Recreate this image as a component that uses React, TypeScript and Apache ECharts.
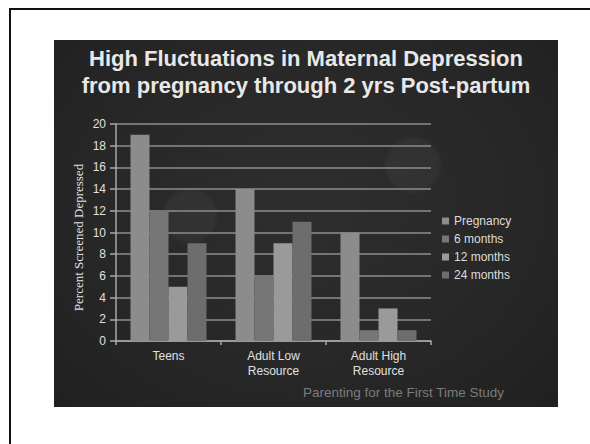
import React, { useEffect, useRef } from "react";
import * as echarts from "echarts";

const categories = ["Teens", "Adult Low\nResource", "Adult High\nResource"];
const seriesNames = ["Pregnancy", "6 months", "12 months", "24 months"];
const pregnancy = [19, 14, 10];
const sixMonths = [12, 6, 1];
const twelveMonths = [5, 9, 3];
const twentyFourMonths = [9, 11, 1];
const yMin = 0;
const yMax = 20;
const yStep = 2;
const titleLines = [
  "High Fluctuations in Maternal Depression",
  "from pregnancy through 2 yrs Post-partum",
];
const yAxisTitle = "Percent Screened Depressed";
const footerText = "Parenting for the First Time Study";

const barColors = ["#8c8c8c", "#767676", "#9a9a9a", "#6d6d6d"];
const SANS = "'Liberation Sans', Arial, Helvetica, sans-serif";
const SERIF = "'Liberation Serif', 'Times New Roman', serif";

export default function App() {
  const ref = useRef<HTMLDivElement>(null);

  useEffect(() => {
    if (!ref.current) return;
    const chart = echarts.init(ref.current, null, { renderer: "svg" });
    const values = [pregnancy, sixMonths, twelveMonths, twentyFourMonths];
    chart.setOption({
      animation: false,
      backgroundColor: "transparent",
      textStyle: { fontFamily: SANS },
      grid: { left: 116, top: 124, width: 315, height: 217, containLabel: false },
      legend: {
        orient: "vertical",
        left: 442,
        top: 215,
        padding: 0,
        itemWidth: 7,
        itemHeight: 7,
        itemGap: 6,
        icon: "rect",
        data: seriesNames,
        textStyle: { color: "#dcdcdc", fontSize: 12, fontFamily: SANS },
      },
      xAxis: {
        type: "category",
        data: categories,
        axisLine: { show: true, lineStyle: { color: "#a8a8a8", width: 1.5 } },
        axisTick: { show: true, length: 4, lineStyle: { color: "#a8a8a8", width: 1.5 } },
        axisLabel: {
          color: "#e0e0e0",
          fontSize: 12,
          lineHeight: 14.5,
          margin: 8,
          interval: 0,
          fontFamily: SANS,
        },
        splitLine: { show: false },
      },
      yAxis: {
        type: "value",
        min: yMin,
        max: yMax,
        interval: yStep,
        axisLine: { show: true, lineStyle: { color: "#a8a8a8", width: 1.5 } },
        axisTick: { show: true, length: 6, lineStyle: { color: "#a8a8a8", width: 1.5 } },
        axisLabel: { color: "#e0e0e0", fontSize: 12, margin: 10, fontFamily: SANS },
        splitLine: { show: true, lineStyle: { color: "#8e8e8e", width: 1.5 } },
      },
      series: seriesNames.map((name, i) => ({
        name,
        type: "bar",
        data: values[i],
        barWidth: 19,
        barGap: "0%",
        itemStyle: { color: barColors[i] },
      })),
      graphic: [
        {
          type: "text",
          x: 306,
          y: 58.4,
          style: {
            text: titleLines[0],
            fill: "#e8e8e8",
            fontSize: 22,
            fontWeight: "bold",
            fontFamily: SANS,
            align: "center",
            verticalAlign: "middle",
          },
        },
        {
          type: "text",
          x: 306,
          y: 85.4,
          style: {
            text: titleLines[1],
            fill: "#e8e8e8",
            fontSize: 22,
            fontWeight: "bold",
            fontFamily: SANS,
            align: "center",
            verticalAlign: "middle",
          },
        },
        {
          type: "text",
          x: 78,
          y: 237.5,
          rotation: Math.PI / 2,
          style: {
            text: yAxisTitle,
            fill: "#e0e0e0",
            fontSize: 13,
            fontFamily: SERIF,
            align: "center",
            verticalAlign: "middle",
          },
        },
        {
          type: "text",
          x: 303,
          y: 392,
          style: {
            text: footerText,
            fill: "#7c7c7c",
            fontSize: 13.5,
            fontFamily: SANS,
            align: "left",
            verticalAlign: "middle",
          },
        },
      ],
    });
    return () => chart.dispose();
  }, []);

  return (
    <div
      style={{
        position: "fixed",
        left: 0,
        top: 0,
        width: 590,
        height: 444,
        background: "#ffffff",
        overflow: "hidden",
      }}
    >
      <div
        style={{
          position: "absolute",
          left: 9,
          top: 8,
          width: 600,
          height: 460,
          borderLeft: "2px solid #111",
          borderTop: "2px solid #111",
        }}
      />
      <div
        style={{
          position: "absolute",
          left: 54,
          top: 40,
          width: 504,
          height: 367,
          background:
            "radial-gradient(circle at 359px 125px, rgba(255,255,255,0.04) 0px, rgba(255,255,255,0.04) 25px, rgba(255,255,255,0) 30px)," +
            "radial-gradient(circle at 136px 176px, rgba(255,255,255,0.04) 0px, rgba(255,255,255,0.04) 24px, rgba(255,255,255,0) 29px)," +
            "radial-gradient(ellipse at 50% 45%, #2e2e2e 0%, #272727 60%, #202020 100%)",
        }}
      />
      <div ref={ref} style={{ position: "absolute", left: 0, top: 0, width: 590, height: 444 }} />
    </div>
  );
}
